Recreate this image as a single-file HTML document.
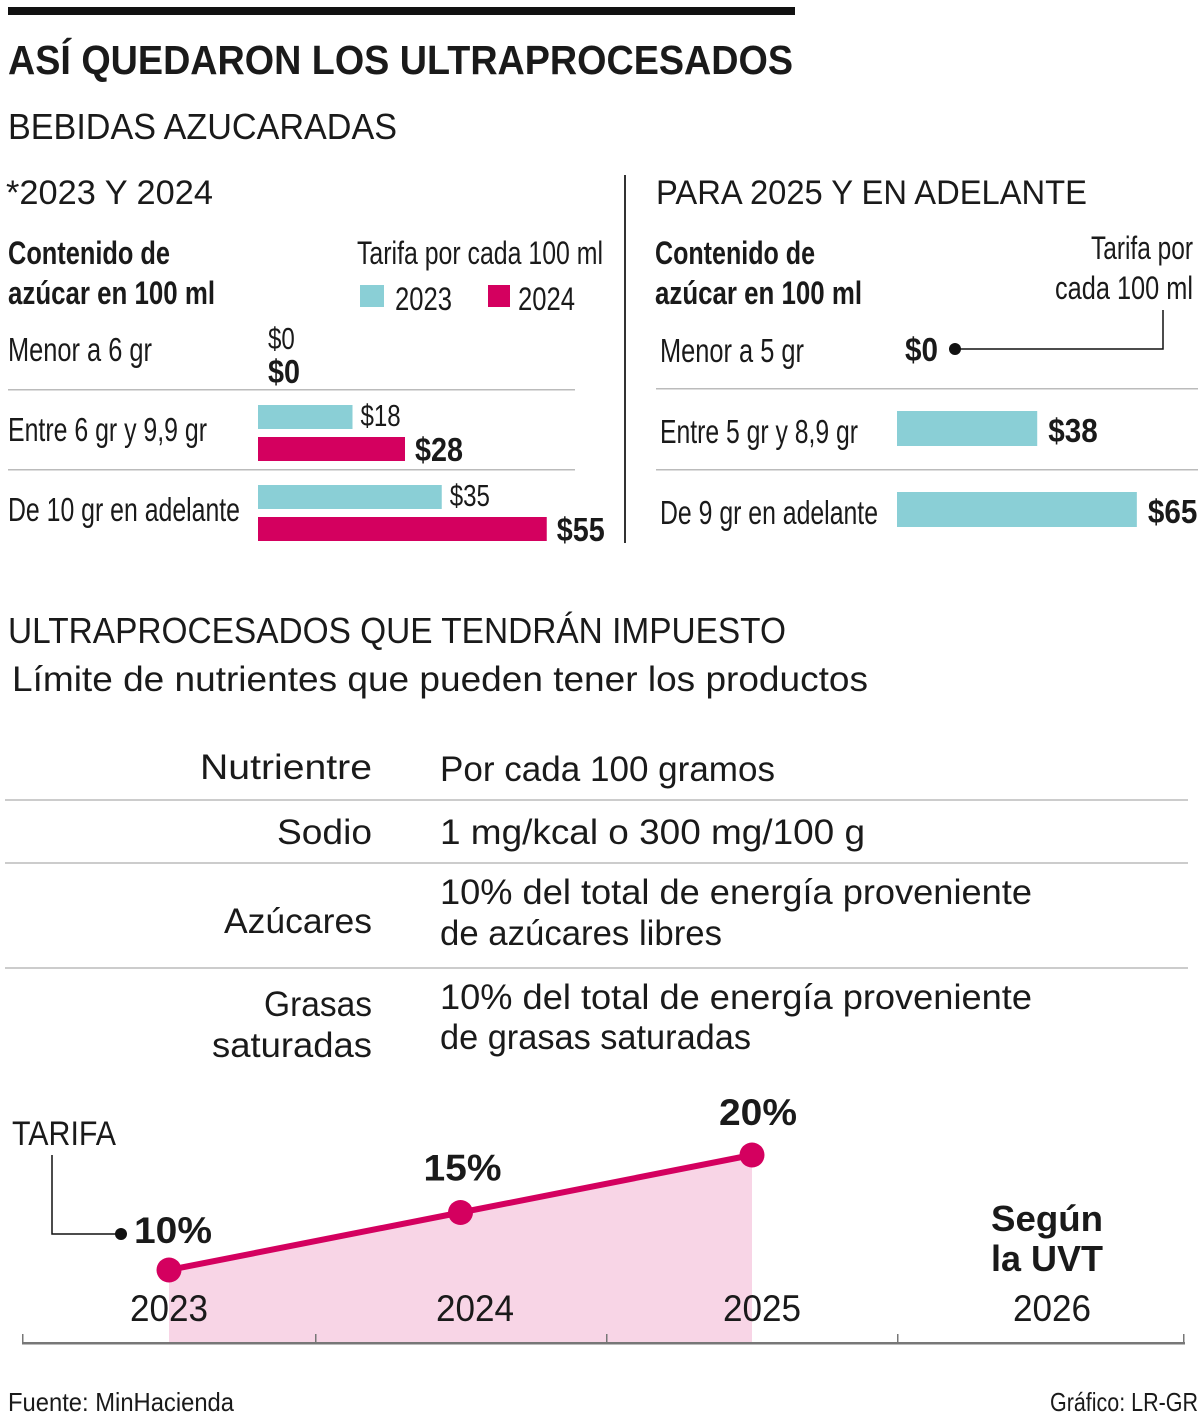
<!DOCTYPE html>
<html><head><meta charset="utf-8"><style>
html,body{margin:0;padding:0;background:#fff}
svg{display:block}
text{font-family:"Liberation Sans",sans-serif;fill:#1a1a1a}
.b{font-weight:bold}
</style></head><body>
<svg id="svg" width="1200" height="1414" viewBox="0 0 1200 1414" xmlns="http://www.w3.org/2000/svg">
<rect x="8" y="7" width="787" height="8" fill="#111"/>
<text x="8" y="74" font-size="41" class="b" textLength="785" lengthAdjust="spacingAndGlyphs">ASÍ QUEDARON LOS ULTRAPROCESADOS</text>
<text x="8" y="139" font-size="36" textLength="389" lengthAdjust="spacingAndGlyphs">BEBIDAS AZUCARADAS</text>
<text x="6" y="204" font-size="34" textLength="207" lengthAdjust="spacingAndGlyphs">*2023 Y 2024</text>
<text x="656" y="204" font-size="34" textLength="431" lengthAdjust="spacingAndGlyphs">PARA 2025 Y EN ADELANTE</text>
<rect x="624" y="175" width="2" height="368" fill="#333"/>
<text x="8" y="264" font-size="32" class="b" textLength="162" lengthAdjust="spacingAndGlyphs">Contenido de</text>
<text x="8" y="304" font-size="32" class="b" textLength="207" lengthAdjust="spacingAndGlyphs">azúcar en 100 ml</text>
<text x="357" y="264" font-size="32" textLength="246" lengthAdjust="spacingAndGlyphs">Tarifa por cada 100 ml</text>
<rect x="360" y="285" width="24" height="22" fill="#8acfd6"/>
<text x="395" y="310" font-size="32" textLength="57" lengthAdjust="spacingAndGlyphs">2023</text>
<rect x="488" y="285" width="22" height="22" fill="#d4005f"/>
<text x="518" y="310" font-size="32" textLength="57" lengthAdjust="spacingAndGlyphs">2024</text>
<text x="655" y="264" font-size="32" class="b" textLength="160" lengthAdjust="spacingAndGlyphs">Contenido de</text>
<text x="655" y="304" font-size="32" class="b" textLength="207" lengthAdjust="spacingAndGlyphs">azúcar en 100 ml</text>
<text x="1193" y="259" font-size="32" text-anchor="end" textLength="102" lengthAdjust="spacingAndGlyphs">Tarifa por</text>
<text x="1193" y="299" font-size="32" text-anchor="end" textLength="138" lengthAdjust="spacingAndGlyphs">cada 100 ml</text>
<polyline points="955,349 1163,349 1163,310" fill="none" stroke="#111" stroke-width="1.5"/>
<circle cx="955" cy="349" r="6" fill="#111"/>
<g id="leftBars"></g>
<g id="rightBars"></g>

<text x="8" y="643" font-size="36" textLength="778" lengthAdjust="spacingAndGlyphs">ULTRAPROCESADOS QUE TENDRÁN IMPUESTO</text>
<text x="12" y="691" font-size="35" textLength="856" lengthAdjust="spacingAndGlyphs">Límite de nutrientes  que pueden tener los productos</text>
<g>
<text x="372" y="779" font-size="35" text-anchor="end" textLength="172" lengthAdjust="spacingAndGlyphs">Nutrientre</text>
<text x="440" y="781" font-size="35" textLength="335" lengthAdjust="spacingAndGlyphs">Por cada 100 gramos</text>
<rect x="5" y="799" width="1183" height="2" fill="#ccc"/>
<text x="372" y="844" font-size="35" text-anchor="end" textLength="95" lengthAdjust="spacingAndGlyphs">Sodio</text>
<text x="440" y="844" font-size="35" textLength="425" lengthAdjust="spacingAndGlyphs">1 mg/kcal o 300 mg/100 g</text>
<rect x="5" y="862" width="1183" height="2" fill="#ccc"/>
<text x="372" y="933" font-size="35" text-anchor="end" textLength="148" lengthAdjust="spacingAndGlyphs">Azúcares</text>
<text x="440" y="904" font-size="35" textLength="592" lengthAdjust="spacingAndGlyphs">10% del total de energía proveniente</text>
<text x="440" y="945" font-size="35" textLength="282" lengthAdjust="spacingAndGlyphs">de azúcares libres</text>
<rect x="5" y="967" width="1183" height="2" fill="#ccc"/>
<text x="372" y="1016" font-size="35" text-anchor="end" textLength="108" lengthAdjust="spacingAndGlyphs">Grasas</text>
<text x="372" y="1057" font-size="35" text-anchor="end" textLength="160" lengthAdjust="spacingAndGlyphs">saturadas</text>
<text x="440" y="1009" font-size="35" textLength="592" lengthAdjust="spacingAndGlyphs">10% del total de energía proveniente</text>
<text x="440" y="1049" font-size="35" textLength="311" lengthAdjust="spacingAndGlyphs">de grasas saturadas</text>
</g>

<g id="lineChart"></g>
<text x="12" y="1145" font-size="34" textLength="104" lengthAdjust="spacingAndGlyphs">TARIFA</text>
<polyline points="52,1155 52,1234 118,1234" fill="none" stroke="#111" stroke-width="1.5"/>
<circle cx="121" cy="1234" r="6" fill="#111"/>
<text x="1047" y="1231" font-size="36" class="b" text-anchor="middle" textLength="112" lengthAdjust="spacingAndGlyphs">Según</text>
<text x="1047" y="1271" font-size="36" class="b" text-anchor="middle" textLength="112" lengthAdjust="spacingAndGlyphs">la UVT</text>
<text x="8" y="1411" font-size="26" textLength="226" lengthAdjust="spacingAndGlyphs">Fuente: MinHacienda</text>
<text x="1198" y="1411" font-size="26" text-anchor="end" textLength="148" lengthAdjust="spacingAndGlyphs">Gráfico: LR-GR</text>
</svg>
<script>
const leftCats = ["Menor a 6 gr", "Entre 6 gr y 9,9 gr", "De 10 gr en adelante"];
const leftCatWidths = [144, 199, 232];
const left2023 = [0, 18, 35];
const left2024 = [0, 28, 55];
const rightCats = ["Menor a 5 gr", "Entre 5 gr y 8,9 gr", "De 9 gr en adelante"];
const rightCatWidths = [144, 198, 218];
const right2025 = [0, 38, 65];
const years = ["2023", "2024", "2025", "2026"];
const rates = [10, 15, 20];

const NS = "http://www.w3.org/2000/svg";
function mk(tag, parent, attrs) {
  const e = document.createElementNS(NS, tag);
  for (const k in attrs) e.setAttribute(k, attrs[k]);
  parent.appendChild(e);
  return e;
}
function txt(parent, str, attrs) {
  const e = mk("text", parent, attrs);
  e.textContent = str;
  return e;
}
const cw = 13.4;

const xL = v => 258 + v * 5.25;
const rowL = i => 310 + i * 80;
const gL = document.getElementById("leftBars");
leftCats.forEach((c, i) => {
  const t = txt(gL, c, {x: 8, y: rowL(i) + 51, "font-size": 33, textLength: leftCatWidths[i], lengthAdjust: "spacingAndGlyphs"});
  
  
  if (i > 0) {
    const l = mk("rect", gL, {x: 8, y: rowL(i) - 1, width: 567, height: 1.5, fill: "#bbb"});
    
    
  }
  const y1 = rowL(i) + 15, y2 = rowL(i) + 47;
  if (left2023[i] > 0) {
    const b = mk("rect", gL, {x: xL(0), y: y1, width: xL(left2023[i]) - xL(0), height: 24, fill: "#8acfd6"});
    
    
  }
  if (left2024[i] > 0) {
    const b = mk("rect", gL, {x: xL(0), y: y2, width: xL(left2024[i]) - xL(0), height: 24, fill: "#d4005f"});
    
    
  }
  const s1 = "$" + left2023[i], s2 = "$" + left2024[i];
  const v1 = txt(gL, s1, {x: xL(left2023[i]) + (left2023[i] > 0 ? 8 : 10), y: left2023[i] > 0 ? y1 + 21 : rowL(i) + 39, "font-size": 31, textLength: s1.length * cw, lengthAdjust: "spacingAndGlyphs"});
  
  
  const v2 = txt(gL, s2, {x: xL(left2024[i]) + 10, y: left2024[i] > 0 ? y2 + 24 : rowL(i) + 73, "font-size": 33, "font-weight": "bold", textLength: s2.length * 16, lengthAdjust: "spacingAndGlyphs"});
  
  
});

const xR = v => 897 + v * 3.69;
const rowR = i => 308 + i * 81;
const gR = document.getElementById("rightBars");
rightCats.forEach((c, i) => {
  const t = txt(gR, c, {x: 660, y: rowR(i) + 54, "font-size": 33, textLength: rightCatWidths[i], lengthAdjust: "spacingAndGlyphs"});
  
  
  if (i > 0) {
    const l = mk("rect", gR, {x: 656, y: rowR(i) - 1, width: 542, height: 1.5, fill: "#bbb"});
    
    
  }
  if (right2025[i] > 0) {
    const b = mk("rect", gR, {x: xR(0), y: rowR(i) + 22, width: xR(right2025[i]) - xR(0), height: 35, fill: "#8acfd6"});
    
    
  }
  const s = "$" + right2025[i];
  const v = txt(gR, s, {x: xR(right2025[i]) + (right2025[i] > 0 ? 11 : 8), y: rowR(i) + 53, "font-size": 33, "font-weight": "bold", textLength: s.length * 16.5, lengthAdjust: "spacingAndGlyphs"});
  
  
});

const gC = document.getElementById("lineChart");
const xY = i => 169 + i * 291.5;
const yV = v => 1270 - (v - 10) * 11.5;
const axisY = 1343;
let d = "M" + xY(0) + "," + axisY;
rates.forEach((r, i) => { d += " L" + xY(i) + "," + yV(r); });
d += " L" + xY(rates.length - 1) + "," + axisY + " Z";
const area = mk("path", gC, {d: d, fill: "#f8d5e6"});


const axis = mk("rect", gC, {x: 22, y: axisY - 1, width: 1163, height: 2.5, fill: "#777"});


[22, 315, 606, 897, 1183].forEach(tx => {
  const tk = mk("rect", gC, {x: tx, y: axisY - 9, width: 1.5, height: 9, fill: "#777"});
  
  
});
const pts = rates.map((r, i) => xY(i) + "," + yV(r)).join(" ");
const line = mk("polyline", gC, {points: pts, fill: "none", stroke: "#d4005f", "stroke-width": 6});


const labelDx = [4, 2, 6], labelDy = [-27, -32, -30];
rates.forEach((r, i) => {
  const c = mk("circle", gC, {cx: xY(i), cy: yV(r), r: 12.5, fill: "#d4005f"});
  
  
  const t = txt(gC, r + "%", {x: xY(i) + labelDx[i], y: yV(r) + labelDy[i], "font-size": 37, "font-weight": "bold", "text-anchor": "middle", textLength: 78, lengthAdjust: "spacingAndGlyphs"});
  
  
});
const yearCx = [169, 475, 762, 1052];
years.forEach((y, i) => {
  const t = txt(gC, y, {x: yearCx[i], y: 1321, "font-size": 37, "text-anchor": "middle", textLength: 78, lengthAdjust: "spacingAndGlyphs"});
  
  
});
</script>
</body></html>
